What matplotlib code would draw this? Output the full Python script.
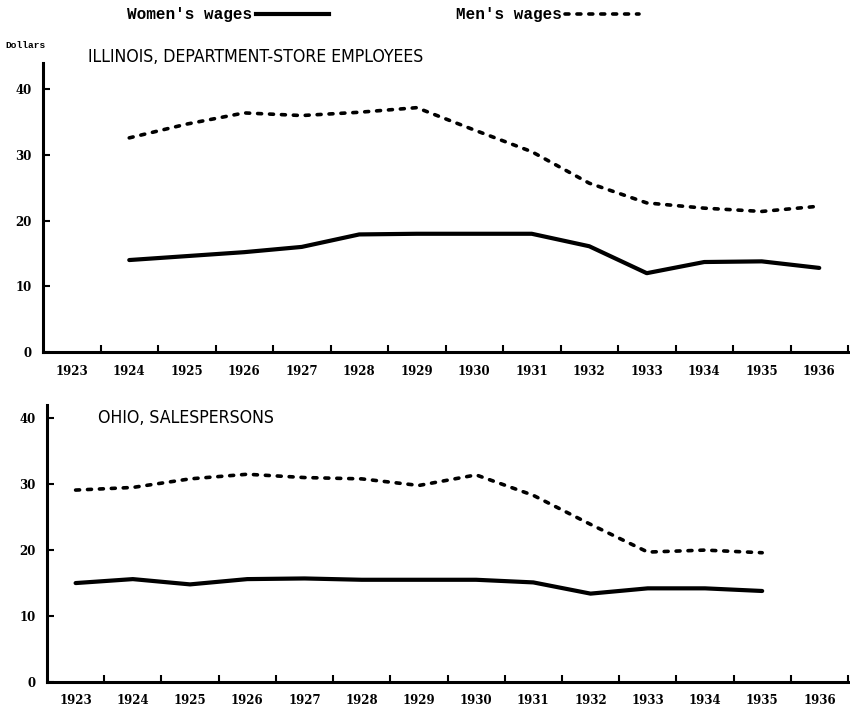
import matplotlib
matplotlib.use("Agg")
import matplotlib.pyplot as plt
from matplotlib.lines import Line2D
from matplotlib.ticker import FixedLocator, NullFormatter

years = list(range(1923, 1937))
tick_labels = [str(y) for y in years]

# Illinois, department-store employees (1924-1936)
il_years = list(range(1924, 1937))
il_women = [14.0, 14.6, 15.2, 16.0, 17.9, 18.0, 18.0, 18.0, 16.1, 12.0, 13.7, 13.8, 12.8]
il_men = [32.6, 34.7, 36.4, 36.0, 36.5, 37.2, 33.8, 30.5, 25.7, 22.7, 21.9, 21.4, 22.2]

# Ohio, salespersons (1923-1935)
oh_years = list(range(1923, 1936))
oh_women = [15.0, 15.6, 14.8, 15.6, 15.7, 15.5, 15.5, 15.5, 15.1, 13.4, 14.2, 14.2, 13.8]
oh_men = [29.1, 29.5, 30.8, 31.5, 31.0, 30.8, 29.8, 31.4, 28.3, 23.9, 19.7, 20.0, 19.6]

yticks = [0, 10, 20, 30, 40]

W, H = 850, 708
fig = plt.figure(figsize=(W / 100, H / 100), dpi=100)
fig.patch.set_facecolor("white")

def fx(px):
    return px / W

def fy(py):
    return 1 - py / H

tick_font = dict(family="DejaVu Serif", weight="bold", size=8.5)
title_font = dict(family="DejaVu Sans", stretch="condensed", size=12.7)

dash = (1.1, 2.2)

def setup(ax, ytop, title, title_xy):
    ax.set_xlim(1922.5, 1936.5)
    ax.set_ylim(0, ytop)
    for s in ["top", "right"]:
        ax.spines[s].set_visible(False)
    for s in ["left", "bottom"]:
        ax.spines[s].set_linewidth(2.2)
    ax.set_xticks(years)
    ax.set_xticklabels(tick_labels, fontdict=tick_font)
    ax.tick_params(axis="x", which="major", length=0, pad=9)
    ax.xaxis.set_minor_locator(FixedLocator([y + 0.5 for y in years]))
    ax.xaxis.set_minor_formatter(NullFormatter())
    ax.tick_params(axis="x", which="minor", direction="in", length=5, width=1.5)
    ax.set_yticks(yticks)
    ax.set_yticklabels([str(v) for v in yticks], fontdict=tick_font)
    ax.tick_params(axis="y", direction="in", length=5, width=1.5, pad=8)
    fig.text(fx(title_xy[0]), fy(title_xy[1]), title, ha="left", va="center", **title_font)

ax1 = fig.add_axes([fx(43), fy(352), fx(848 - 43), (352 - 63) / H])
setup(ax1, 44, "ILLINOIS, DEPARTMENT-STORE EMPLOYEES", (88, 57))
ax1.plot(il_years, il_women, color="black", lw=3.0, solid_capstyle="round", solid_joinstyle="round")
ax1.plot(il_years, il_men, color="black", lw=2.6, dashes=dash, dash_capstyle="round")

ax2 = fig.add_axes([fx(47), fy(682), fx(848 - 47), (682 - 405) / H])
setup(ax2, 42, "OHIO, SALESPERSONS", (98, 418))
ax2.plot(oh_years, oh_women, color="black", lw=3.0, solid_capstyle="round", solid_joinstyle="round")
ax2.plot(oh_years, oh_men, color="black", lw=2.6, dashes=dash, dash_capstyle="round")

fig.text(fx(5), fy(46), "Dollars", family="Liberation Mono", weight="bold", size=6.8, ha="left", va="center")

handles = [Line2D([], [], color="black", lw=3.0),
           Line2D([], [], color="black", lw=2.6, dashes=dash, dash_capstyle="round")]
fig.legend(handles, ["Women's wages", "Men's wages"], loc="center", bbox_to_anchor=(fx(383), fy(15)),
           ncol=2, frameon=False, markerfirst=False, handlelength=4.6, handletextpad=0.2,
           columnspacing=7.95, prop=dict(family="Liberation Mono", weight="bold", size=11.5))

fig.savefig("out.png", dpi=100, facecolor="white")
